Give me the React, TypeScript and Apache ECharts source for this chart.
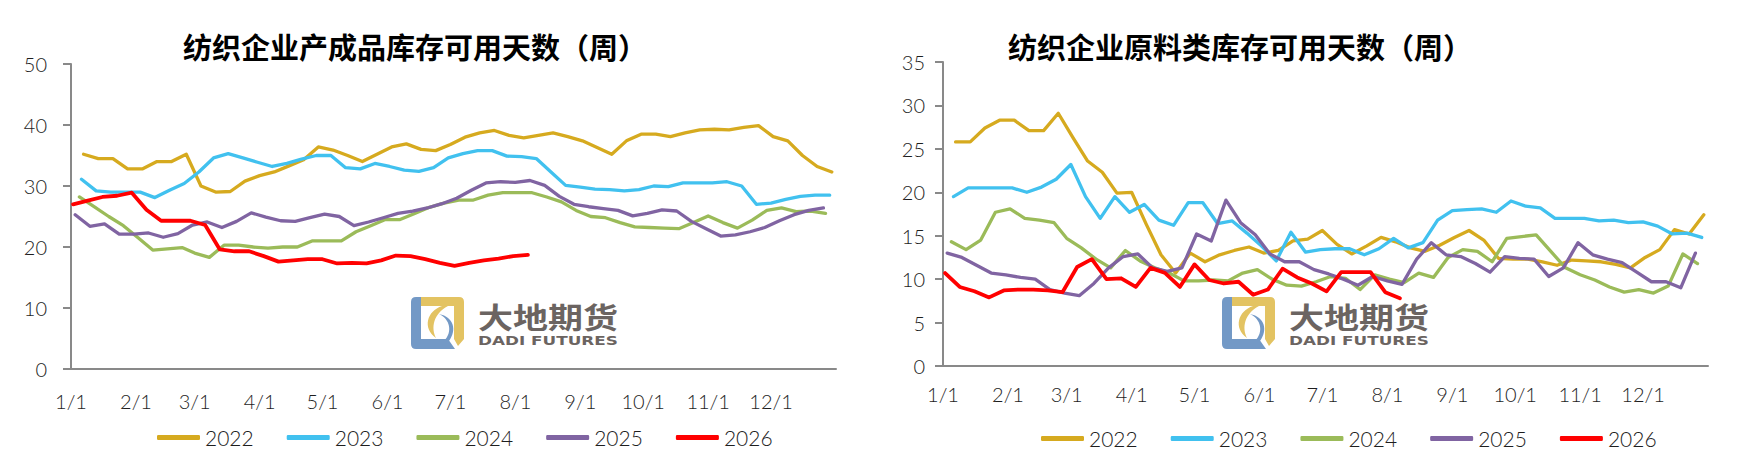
import { useEffect, useRef } from 'react'
import * as echarts from 'echarts'

// Two seasonal charts (weekly data, one line per year) for textile inventory days.

const YEARS = ['2022', '2023', '2024', '2025', '2026']
const COLORS = ['#D6AA1F', '#41C1EF', '#9BBB59', '#8064A2', '#FF0000']
// first weekly observation of each year (Fridays)
const FIRST_WEEK = ['2022-01-07', '2023-01-06', '2024-01-05', '2025-01-03', '2026-01-02']

const TITLE_LEFT = '纺织企业产成品库存可用天数（周）'
const TITLE_RIGHT = '纺织企业原料类库存可用天数（周）'

// 产成品库存可用天数
const PRODUCT_2022 = [35.2, 34.5, 34.5, 32.8, 32.8, 34.0, 34.0, 35.2, 30.0, 29.0, 29.1, 30.8, 31.7, 32.3, 33.3, 34.3, 36.4, 35.9, 35.0, 34.0, 35.2, 36.4, 36.9, 36.0, 35.8, 36.8, 38.0, 38.7, 39.1, 38.3, 37.9, 38.3, 38.7, 38.1, 37.4, 36.3, 35.2, 37.4, 38.5, 38.5, 38.1, 38.7, 39.2, 39.3, 39.2, 39.6, 39.9, 38.1, 37.4, 35.0, 33.2, 32.3]
const PRODUCT_2023 = [31.1, 29.2, 29.0, 29.0, 29.0, 28.1, 29.3, 30.4, 32.3, 34.6, 35.3, 34.6, 33.9, 33.2, 33.7, 34.4, 35.0, 35.0, 33.0, 32.8, 33.7, 33.2, 32.6, 32.4, 33.0, 34.6, 35.3, 35.8, 35.8, 34.9, 34.8, 34.5, 32.3, 30.1, 29.8, 29.5, 29.4, 29.2, 29.4, 30.0, 29.9, 30.5, 30.5, 30.5, 30.7, 30.0, 27.0, 27.2, 27.8, 28.3, 28.5, 28.5]
const PRODUCT_2024 = [28.2, 26.6, 25.0, 23.5, 21.5, 19.5, 19.7, 19.9, 19.0, 18.3, 20.3, 20.3, 20.0, 19.8, 20.0, 20.0, 21.0, 21.0, 21.0, 22.5, 23.5, 24.5, 24.5, 25.5, 26.5, 27.2, 27.7, 27.7, 28.5, 28.9, 28.9, 28.9, 28.2, 27.4, 26.0, 25.0, 24.8, 24.0, 23.3, 23.2, 23.1, 23.0, 24.0, 25.1, 24.0, 23.1, 24.4, 26.0, 26.4, 25.8, 25.9, 25.5]
const PRODUCT_2025 = [25.3, 23.4, 23.8, 22.1, 22.1, 22.3, 21.6, 22.2, 23.6, 24.1, 23.2, 24.2, 25.6, 24.9, 24.3, 24.2, 24.8, 25.4, 25.0, 23.5, 24.1, 24.8, 25.5, 25.9, 26.4, 27.1, 28.0, 29.3, 30.5, 30.7, 30.6, 30.9, 30.1, 28.3, 27.0, 26.6, 26.3, 26.0, 25.1, 25.5, 26.1, 25.9, 24.2, 23.0, 21.8, 22.0, 22.5, 23.2, 24.3, 25.3, 26.0, 26.4]
const PRODUCT_2026 = [27.0, 27.6, 28.2, 28.4, 28.9, 26.1, 24.3, 24.3, 24.3, 23.6, 19.6, 19.3, 19.3, 18.5, 17.6, 17.8, 18.0, 18.0, 17.3, 17.4, 17.3, 17.8, 18.6, 18.5, 18.0, 17.4, 16.9, 17.4, 17.8, 18.1, 18.5, 18.7]

// 原料类库存可用天数
const MATERIAL_2022 = [25.8, 25.8, 27.4, 28.3, 28.3, 27.1, 27.1, 29.1, 26.3, 23.6, 22.3, 19.9, 20.0, 16.3, 12.8, 10.7, 13.0, 12.0, 12.8, 13.3, 13.7, 13.0, 13.3, 14.4, 14.6, 15.6, 14.0, 12.9, 13.8, 14.8, 14.3, 13.6, 13.2, 13.9, 14.8, 15.6, 14.5, 12.4, 12.3, 12.3, 12.0, 11.6, 12.2, 12.1, 12.0, 11.7, 11.3, 12.5, 13.4, 15.7, 15.2, 17.4]
const MATERIAL_2023 = [19.5, 20.5, 20.5, 20.5, 20.5, 20.0, 20.6, 21.5, 23.2, 19.5, 17.0, 19.5, 17.7, 18.6, 16.8, 16.2, 18.8, 18.8, 16.4, 16.7, 15.3, 13.8, 12.1, 15.4, 13.1, 13.4, 13.5, 13.5, 12.8, 13.5, 14.7, 13.6, 14.2, 16.8, 17.9, 18.0, 18.1, 17.7, 19.0, 18.4, 18.2, 17.0, 17.0, 17.0, 16.7, 16.8, 16.5, 16.6, 16.1, 15.2, 15.3, 14.8]
const MATERIAL_2024 = [14.3, 13.4, 14.5, 17.7, 18.1, 17.0, 16.8, 16.5, 14.7, 13.6, 12.3, 11.3, 13.3, 12.1, 11.3, 10.7, 9.8, 9.8, 9.9, 9.8, 10.7, 11.1, 10.0, 9.3, 9.2, 9.7, 10.3, 10.1, 8.8, 10.5, 10.0, 9.6, 10.7, 10.2, 12.5, 13.4, 13.2, 12.0, 14.7, 14.9, 15.1, 13.2, 11.3, 10.5, 9.9, 9.1, 8.5, 8.8, 8.4, 9.2, 12.9, 11.8]
const MATERIAL_2025 = [13.0, 12.5, 11.6, 10.7, 10.5, 10.2, 10.0, 8.8, 8.4, 8.1, 9.5, 11.3, 12.6, 12.9, 11.3, 10.9, 11.3, 15.2, 14.4, 19.1, 16.5, 15.1, 12.9, 12.0, 12.0, 11.1, 10.6, 10.0, 9.3, 10.3, 9.8, 9.4, 12.3, 14.2, 12.8, 12.6, 11.8, 10.8, 12.6, 12.4, 12.3, 10.3, 11.3, 14.2, 12.8, 12.3, 11.9, 10.8, 9.7, 9.7, 9.0, 13.0]
const MATERIAL_2026 = [10.7, 9.1, 8.6, 7.9, 8.7, 8.8, 8.8, 8.7, 8.5, 11.4, 12.3, 10.0, 10.1, 9.1, 11.3, 10.7, 9.1, 11.7, 9.9, 9.5, 9.7, 8.2, 8.8, 11.2, 10.2, 9.5, 8.6, 10.8, 10.8, 10.8, 8.5, 7.8]

const PRODUCT = [PRODUCT_2022, PRODUCT_2023, PRODUCT_2024, PRODUCT_2025, PRODUCT_2026]
const MATERIAL = [MATERIAL_2022, MATERIAL_2023, MATERIAL_2024, MATERIAL_2025, MATERIAL_2026]

const Y_LEFT = { max: 50, step: 10 }
const Y_RIGHT = { max: 35, step: 5 }

// one category per calendar day of a common (non-leap) year, plus the closing 1/1
const DAY = 86400000
const BASE = Date.UTC(2022, 0, 1)
const CATEGORIES = Array.from({ length: 366 }, (_, i) => {
  const d = new Date(BASE + i * DAY)
  return `${d.getUTCMonth() + 1}/${d.getUTCDate()}`
})

const FONT = 'Lato, "Noto Sans", sans-serif'
const CJK = '"Noto Sans CJK SC", sans-serif'
const AXIS = '#898989'
const TEXT = '#1e1e1e'

// weekly values -> [day-of-common-year, value]
function weekly(first: string, values: number[]) {
  const [y, m, d] = first.split('-').map(Number)
  return values.map((v, i) => {
    const dt = new Date(Date.UTC(y, m - 1, d + 7 * i))
    const idx = Math.round((Date.UTC(2022, dt.getUTCMonth(), dt.getUTCDate()) - BASE) / DAY)
    return [idx, v]
  })
}

const LOGO_BLUE = 'M0 5 Q0 0 5 0 L10 0 L10 42 L37 42 L44 52 L5 52 Q0 52 0 47 Z'
const LOGO_GOLD = 'M10 0 L48 0 Q53 0 53 5 L53 42 L47 49 L43 42 L43 9 L10 9 Z'
const LOGO_ARC_GOLD = 'M31 9 C16 14 11 31 25 41 C20 31 22 17 37 9 Z'
const LOGO_ARC_BLUE = 'M28 17 C39 22 42 35 33 44 L38 44 C46 33 43 20 28 17 Z'

echarts.graphic.registerShape('logoBlue', echarts.graphic.extendPath(LOGO_BLUE, {}))
echarts.graphic.registerShape('logoGold', echarts.graphic.extendPath(LOGO_GOLD, {}))
echarts.graphic.registerShape('logoArcGold', echarts.graphic.extendPath(LOGO_ARC_GOLD, {}))
echarts.graphic.registerShape('logoArcBlue', echarts.graphic.extendPath(LOGO_ARC_BLUE, {}))

function measure(text: string, font: string) {
  const ctx = document.createElement('canvas').getContext('2d')
  if (!ctx) return 1
  ctx.font = font
  return ctx.measureText(text).width || 1
}

function logo(x: number, y: number) {
  const cnFont = `bold 29px ${CJK}`
  const enFont = `bold 13px "DejaVu Sans", sans-serif`
  const cnW = measure('大地期货', cnFont)
  const enW = measure('DADI FUTURES', enFont)
  return {
    type: 'group',
    x,
    y,
    z: 0,
    children: [
      { type: 'logoBlue', style: { fill: '#7399C6' } },
      { type: 'logoGold', style: { fill: '#E3C362' } },
      { type: 'logoArcGold', style: { fill: '#E3C362' } },
      { type: 'logoArcBlue', style: { fill: '#7399C6' } },
      {
        type: 'text',
        x: 67,
        y: 19,
        scaleX: 140 / cnW,
        style: { text: '大地期货', fill: '#6B6461', font: cnFont, verticalAlign: 'middle' },
      },
      {
        type: 'text',
        x: 67,
        y: 44,
        scaleX: 140 / enW,
        style: { text: 'DADI FUTURES', fill: '#6B6461', font: enFont, verticalAlign: 'middle' },
      },
    ],
  }
}

function xAxis(gridIndex: number, margin: number) {
  return {
    type: 'category',
    gridIndex,
    data: CATEGORIES,
    boundaryGap: false,
    axisLine: { lineStyle: { color: AXIS, width: 2 } },
    axisTick: { show: false },
    axisLabel: {
      interval: (i: number, v: string) => i < 365 && v.endsWith('/1'),
      fontSize: 20,
      fontWeight: 300,
      fontFamily: FONT,
      color: TEXT,
      margin,
    },
    splitLine: { show: false },
  }
}

function yAxis(gridIndex: number, range: { max: number; step: number }, margin: number) {
  return {
    type: 'value',
    gridIndex,
    min: 0,
    max: range.max,
    interval: range.step,
    axisLine: { show: true, lineStyle: { color: AXIS, width: 2 } },
    axisTick: { show: true, length: 8, lineStyle: { color: AXIS, width: 2 } },
    axisLabel: { fontSize: 20, fontWeight: 300, fontFamily: FONT, color: TEXT, margin },
    splitLine: { show: false },
  }
}

function lines(sets: number[][], axis: number) {
  return sets.map((values, i) => ({
    type: 'line',
    name: YEARS[i],
    xAxisIndex: axis,
    yAxisIndex: axis,
    data: weekly(FIRST_WEEK[i], values),
    symbol: 'none',
    lineStyle: { color: COLORS[i], width: i === 4 ? 3.8 : 3.3, cap: 'round', join: 'round' },
    itemStyle: { color: COLORS[i] },
    z: 3 + i,
  }))
}

function legend(left: number, top: number) {
  return {
    left,
    top,
    padding: 0,
    data: YEARS,
    icon: 'roundRect',
    itemWidth: 43,
    itemHeight: 5,
    itemGap: 33,
    selectedMode: false,
    textStyle: { fontSize: 21, fontWeight: 300, fontFamily: FONT, color: TEXT },
  }
}

function buildOption(): echarts.EChartsOption {
  return {
    animation: false,
    backgroundColor: '#ffffff',
    title: [
      {
        text: TITLE_LEFT,
        left: 183,
        top: 31,
        padding: 0,
        textStyle: { fontSize: 29, fontWeight: 'bold', color: '#000', fontFamily: CJK },
      },
      {
        text: TITLE_RIGHT,
        left: 1008,
        top: 31,
        padding: 0,
        textStyle: { fontSize: 29, fontWeight: 'bold', color: '#000', fontFamily: CJK },
      },
    ],
    legend: [legend(157, 427), legend(1041, 428)],
    grid: [
      { left: 71, top: 64, width: 765, height: 305 },
      { left: 943, top: 62, width: 765, height: 304 },
    ],
    xAxis: [xAxis(0, 22), xAxis(1, 18)],
    yAxis: [yAxis(0, Y_LEFT, 24), yAxis(1, Y_RIGHT, 18)],
    graphic: [logo(411, 297), logo(1222, 297)],
    series: [...lines(PRODUCT, 0), ...lines(MATERIAL, 1)],
  } as echarts.EChartsOption
}

export default function App() {
  const ref = useRef<HTMLDivElement>(null)

  useEffect(() => {
    document.body.style.margin = '0'
    const el = ref.current
    if (!el) return
    const chart = echarts.init(el, undefined, { renderer: 'svg' })
    chart.setOption(buildOption())
    return () => chart.dispose()
  }, [])

  return <div ref={ref} style={{ width: 1760, height: 468, background: '#fff' }} />
}
